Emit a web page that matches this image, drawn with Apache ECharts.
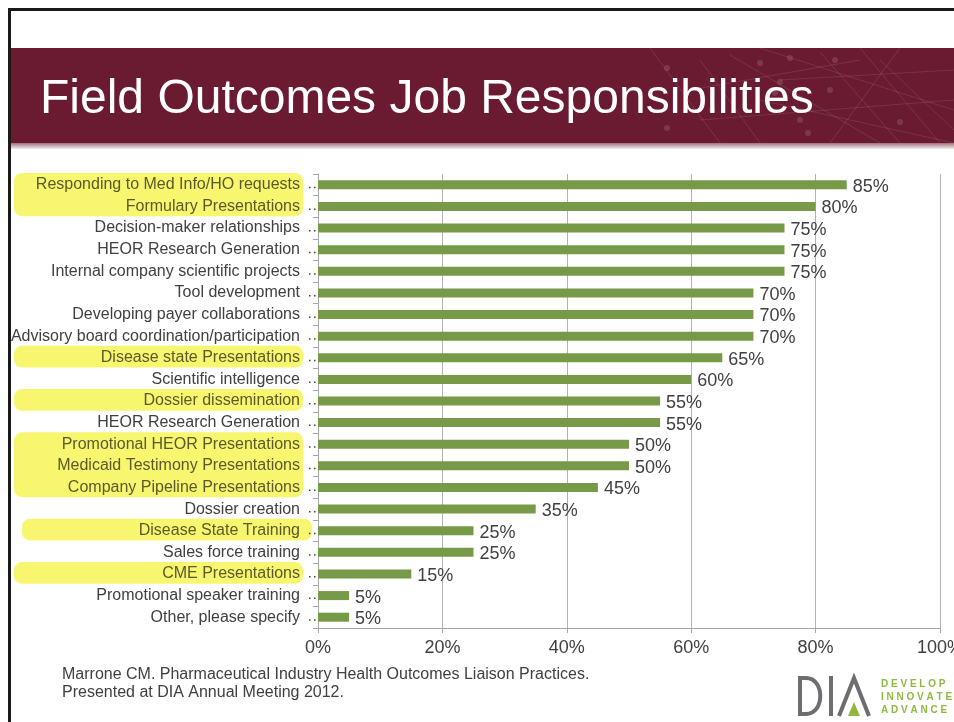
<!DOCTYPE html>
<html>
<head>
<meta charset="utf-8">
<script src="https://cdn.jsdelivr.net/npm/echarts@6/dist/echarts.min.js"></script>
<style>
html,body{margin:0;padding:0;background:#fff;overflow:hidden;}
#main{width:954px;height:722px;}
</style>
</head>
<body>
<div id="main"></div>
<script>
const categories = [
  'Responding to Med Info/HO requests',
  'Formulary Presentations',
  'Decision-maker relationships',
  'HEOR Research Generation',
  'Internal company scientific projects',
  'Tool development',
  'Developing payer collaborations',
  'Advisory board coordination/participation',
  'Disease state Presentations',
  'Scientific intelligence',
  'Dossier dissemination',
  'HEOR Research Generation',
  'Promotional HEOR Presentations',
  'Medicaid Testimony Presentations',
  'Company Pipeline Presentations',
  'Dossier creation',
  'Disease State Training',
  'Sales force training',
  'CME Presentations',
  'Promotional speaker training',
  'Other, please specify'
];
const values = [85, 80, 75, 75, 75, 70, 70, 70, 65, 60, 55, 55, 50, 50, 45, 35, 25, 25, 15, 5, 5];
const highlightGroups = [[0, 1], [8, 8], [10, 10], [12, 14], [16, 16], [18, 18]];
const xTicks = [0, 20, 40, 60, 80, 100];
const titleText = 'Field Outcomes Job Responsibilities';
const footnote = ['Marrone CM. Pharmaceutical Industry Health Outcomes Liaison Practices.', 'Presented at DIA Annual Meeting 2012.'];

const highlighted = new Set();
highlightGroups.forEach(g => { for (let i = g[0]; i <= g[1]; i++) highlighted.add(i); });

const FONT = '"Liberation Sans", Arial, sans-serif';
const chart = echarts.init(document.getElementById('main'), null, {renderer: 'canvas'});

const option = {
  backgroundColor: '#ffffff',
  animation: false,
  grid: {left: 318, right: 14, top: 174, bottom: 94, containLabel: false, outerBoundsMode: 'none'},
  xAxis: {
    type: 'value', min: xTicks[0], max: xTicks[xTicks.length - 1], interval: 20,
    axisLine: {show: true, lineStyle: {color: '#a6a6a6', width: 1}},
    axisTick: {show: true, length: 5, lineStyle: {color: '#a6a6a6'}},
    splitLine: {show: true, lineStyle: {color: '#b3b3b3', width: 1}},
    axisLabel: {formatter: '{value}%', fontSize: 18, color: '#404040', fontFamily: FONT, margin: 11, hideOverlap: false}
  },
  yAxis: {
    type: 'category', inverse: true, data: categories,
    axisLine: {show: true, lineStyle: {color: '#a6a6a6', width: 1}},
    axisTick: {show: true, length: 5, lineStyle: {color: '#a6a6a6'}},
    splitLine: {show: false},
    axisLabel: {
      fontSize: 16, color: '#404040', fontFamily: FONT, margin: 18, interval: 0,
      formatter: function (v, i) { return highlighted.has(i) ? '{h|' + v + '}' : v; },
      rich: {h: {fontSize: 16, color: '#5a5a2c', fontFamily: FONT}}
    }
  },
  series: [{
    type: 'bar', data: values, barWidth: 9,
    itemStyle: {color: '#779a48'},
    label: {show: true, position: 'right', distance: 6, offset: [0, 2], formatter: '{c}%', fontSize: 18, color: '#404040', fontFamily: FONT}
  }]
};
chart.setOption(option);

// decorations
const g = [];
// slide border
g.push({type: 'rect', shape: {x: 8, y: 8, width: 946, height: 3}, style: {fill: '#1a1a1a'}, z: 10});
g.push({type: 'rect', shape: {x: 8, y: 8, width: 3, height: 714}, style: {fill: '#1a1a1a'}, z: 10});
// title band
g.push({type: 'rect', shape: {x: 11, y: 48, width: 943, height: 95}, style: {fill: '#6a1b32'}, z: 1});
g.push({type: 'rect', shape: {x: 11, y: 143, width: 943, height: 6}, style: {fill: new echarts.graphic.LinearGradient(0, 0, 0, 1, [{offset: 0, color: '#a0707c'}, {offset: 1, color: '#f4eef0'}])}, z: 1});
// faint network lines in the band
const net = [[650,48,720,143],[700,60,760,143],[730,55,880,143],[760,48,954,110],[780,80,954,70],[820,52,900,143],[860,48,940,143],[700,120,954,100],[760,100,954,143],[880,60,954,130],[900,48,830,143],[690,90,860,60]];
net.forEach(l => g.push({type: 'line', shape: {x1: l[0], y1: l[1], x2: l[2], y2: l[3]}, style: {stroke: 'rgba(255,255,255,0.1)', lineWidth: 1}, z: 2}));
[[667,68],[760,63],[790,58],[835,60],[830,90],[775,93],[712,110],[800,120],[808,133],[900,122],[667,128],[780,82]].forEach(p =>
  g.push({type: 'circle', shape: {cx: p[0], cy: p[1], r: 3}, style: {fill: 'rgba(255,255,255,0.13)'}, z: 2}));
// title
g.push({type: 'text', x: 40, y: 100, style: {text: titleText, font: '48px ' + FONT, fill: '#ffffff', textVerticalAlign: 'middle', textAlign: 'left'}, z: 3});

// highlight boxes and leader dots, positioned from the category axis
const band = chart.convertToPixel({yAxisIndex: 0}, 1) - chart.convertToPixel({yAxisIndex: 0}, 0);
highlightGroups.forEach(gr => {
  const y0 = chart.convertToPixel({yAxisIndex: 0}, gr[0]) - band * 0.55;
  const y1 = chart.convertToPixel({yAxisIndex: 0}, gr[1]) + band * 0.45;
  const training = gr[0] === 16;
  g.push({type: 'rect', shape: {x: training ? 22 : 14, y: y0, width: training ? 290 : 289, height: y1 - y0, r: 8},
    style: {fill: 'rgba(247,244,85,0.85)'}, z: 0, zlevel: 0});
});
categories.forEach((c, i) => {
  const y = chart.convertToPixel({yAxisIndex: 0}, i) + 2;
  g.push({type: 'rect', shape: {x: 309, y: y, width: 1.5, height: 1.5}, style: {fill: '#404040'}, z: 5});
  g.push({type: 'rect', shape: {x: 314, y: y, width: 1.5, height: 1.5}, style: {fill: '#404040'}, z: 5});
});

// footnote
footnote.forEach((t, i) => g.push({type: 'text', x: 62, y: 675 + i * 18, style: {text: t, font: '16px ' + FONT, fill: '#404040', textVerticalAlign: 'middle'}, z: 3}));

// DIA logo
const logoGray = '#6d6e71';
g.push({type: 'polyline', shape: {points: [[806, 678], [800, 678], [800, 714], [806, 714]]}, style: {stroke: logoGray, lineWidth: 4, fill: null}, z: 3});
g.push({type: 'bezierCurve', shape: {x1: 806, y1: 678, x2: 806, y2: 714, cpx1: 825, cpy1: 678, cpx2: 825, cpy2: 714}, style: {stroke: logoGray, lineWidth: 4, fill: null}, z: 3});
g.push({type: 'rect', shape: {x: 829, y: 676, width: 4, height: 40}, style: {fill: logoGray}, z: 3});
g.push({type: 'polyline', shape: {points: [[839, 716], [854, 678], [869, 716]]}, style: {stroke: logoGray, lineWidth: 4, fill: null, lineJoin: 'miter'}, z: 3});
g.push({type: 'polygon', shape: {points: [[848, 716], [854, 702], [860, 716]]}, style: {fill: '#8dbb3f'}, z: 3});
['D E V E L O P', 'I N N O V A T E', 'A D V A N C E'].forEach((t, i) => g.push({type: 'text', x: 881, y: 684 + i * 13,
  style: {text: t, font: 'bold 10px ' + FONT, fill: '#8dbb3f', textVerticalAlign: 'middle'}, z: 3}));

chart.setOption({graphic: {elements: g}});
</script>
</body>
</html>
